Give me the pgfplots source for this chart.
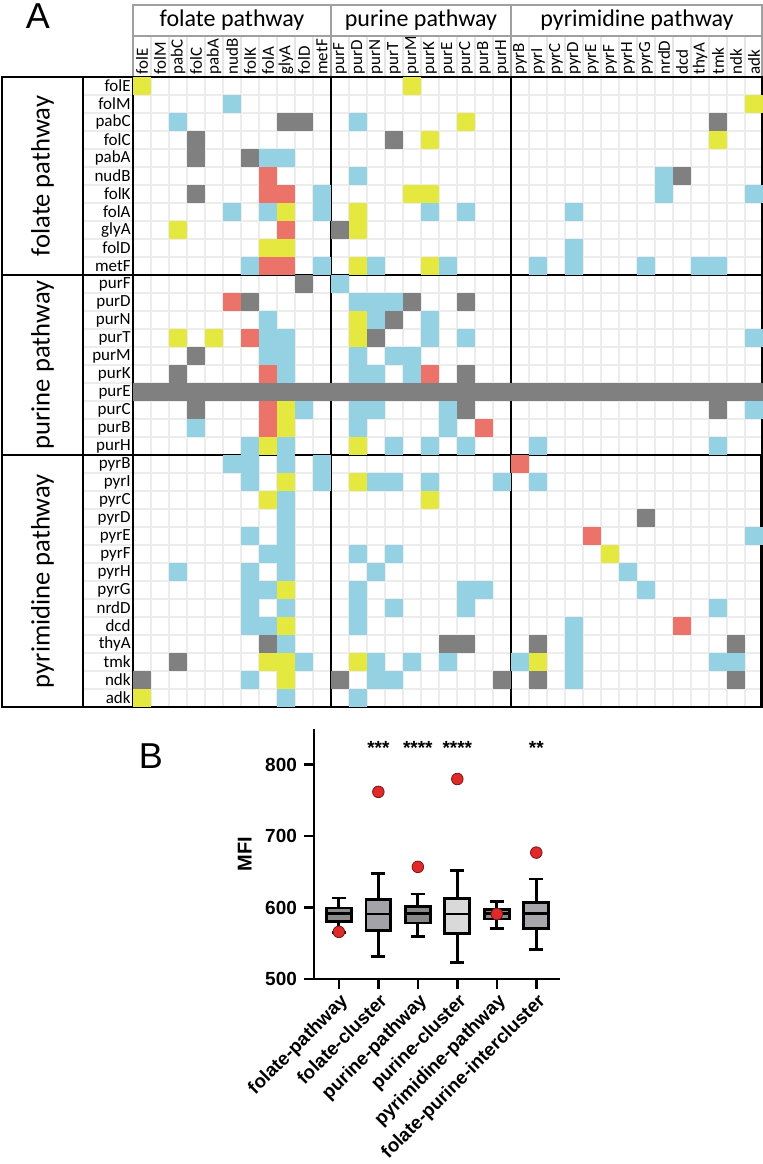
\documentclass[border=0pt]{standalone}
\usepackage{fontspec}
\setmainfont{Liberation Sans}
\newfontfamily\carlito{Carlito}
\usepackage{pgfplots}
\pgfplotsset{compat=1.18}
\usepgfplotslibrary{statistics}

\definecolor{cY}{HTML}{E5E83E}
\definecolor{cB}{HTML}{93D1E3}
\definecolor{cG}{HTML}{808080}
\definecolor{cR}{HTML}{EC736A}
\definecolor{hdr}{HTML}{A0A0A0}
\definecolor{bx1}{HTML}{8C8C8C}
\definecolor{bx2}{HTML}{A2A2A8}
\definecolor{bx3}{HTML}{888888}
\definecolor{bx4}{HTML}{D9D9D9}
\definecolor{bx5}{HTML}{8A8A8A}
\definecolor{bx6}{HTML}{A6A6AC}
\definecolor{dotred}{HTML}{E02A2A}

\begin{document}
\begin{tikzpicture}
\useasboundingbox (0,0) rectangle (381.5pt,-582pt);

\node[font=\fontsize{18}{20}\selectfont] at (19pt,-8pt) {A};
\node[font=\fontsize{18}{20}\selectfont] at (75.5pt,-378pt) {B};

% ---------------- interaction matrix ----------------
\begin{axis}[
  at={(66.5pt,-38.5pt)}, anchor=north west,
  width=315pt, height=315pt, scale only axis,
  xmin=-0.5, xmax=34.5, ymin=-0.5, ymax=34.5, y dir=reverse,
  axis line style={draw=none},
  major tick length=0pt, tick style={draw=none},
  xtick={0,...,34}, ytick={0,...,34},
  xticklabel pos=upper,
  xticklabels={folE,folM,pabC,folC,pabA,nudB,folK,folA,glyA,folD,metF,purF,purD,purN,purT,purM,purK,purE,purC,purB,purH,pyrB,pyrI,pyrC,pyrD,pyrE,pyrF,pyrH,pyrG,nrdD,dcd,thyA,tmk,ndk,adk},
  yticklabels={folE,folM,pabC,folC,pabA,nudB,folK,folA,glyA,folD,metF,purF,purD,purN,purT,purM,purK,purE,purC,purB,purH,pyrB,pyrI,pyrC,pyrD,pyrE,pyrF,pyrH,pyrG,nrdD,dcd,thyA,tmk,ndk,adk},
  x tick label style={rotate=90, anchor=west, inner sep=1pt, font=\carlito\fontsize{8.5}{9}\selectfont},
  y tick label style={anchor=east, inner sep=1pt, font=\carlito\fontsize{8.5}{9}\selectfont},
  minor xtick={-0.5,0.5,...,34.5}, minor ytick={-0.5,0.5,...,34.5},
  xminorgrids, yminorgrids,
  minor grid style={draw=gray!15, line width=0.6pt},
  clip=false,
]
% yellow cells
\addplot[only marks, mark=square*, mark size=4.2pt, color=cY, mark options={line width=0pt}] coordinates {
 (0,0) (15,0) (34,1) (18,2) (16,3) (32,3) (15,6) (16,6) (8,7) (12,7)
 (2,8) (12,8) (7,9) (8,9) (12,10) (16,10)
 (12,13) (2,14) (4,14) (12,14) (8,18) (8,19) (7,20) (12,20)
 (8,22) (12,22) (7,23) (16,23) (26,26) (8,28) (8,30)
 (7,32) (8,32) (12,32) (22,32) (8,33) (0,34)
};
% blue cells
\addplot[only marks, mark=square*, mark size=4.2pt, color=cB, mark options={line width=0pt}] coordinates {
 (5,1) (2,2) (12,2) (7,4) (8,4) (12,5) (29,5) (10,6) (29,6) (34,6)
 (5,7) (7,7) (10,7) (16,7) (18,7) (24,7) (24,9)
 (6,10) (10,10) (13,10) (17,10) (22,10) (24,10) (28,10) (31,10) (32,10)
 (11,11) (12,12) (13,12) (14,12) (7,13) (13,13) (16,13)
 (7,14) (8,14) (16,14) (18,14) (34,14)
 (7,15) (8,15) (12,15) (14,15) (15,15)
 (8,16) (12,16) (13,16) (15,16)
 (9,18) (12,18) (13,18) (17,18) (34,18)
 (3,19) (12,19) (17,19)
 (6,20) (8,20) (14,20) (16,20) (18,20) (22,20) (32,20)
 (5,21) (6,21) (8,21) (10,21)
 (6,22) (10,22) (13,22) (14,22) (16,22) (20,22) (22,22)
 (8,23) (8,24) (6,25) (8,25) (34,25)
 (7,26) (8,26) (12,26) (14,26)
 (2,27) (6,27) (8,27) (13,27) (27,27)
 (6,28) (7,28) (12,28) (18,28) (19,28) (28,28)
 (6,29) (8,29) (12,29) (14,29) (18,29) (32,29)
 (6,30) (7,30) (12,30) (24,30) (8,31) (24,31)
 (9,32) (13,32) (15,32) (17,32) (21,32) (24,32) (32,32) (33,32)
 (6,33) (13,33) (14,33) (24,33) (8,34) (12,34)
};
% grey cells
\addplot[only marks, mark=square*, mark size=4.2pt, color=cG, mark options={line width=0pt}] coordinates {
 (8,2) (9,2) (32,2) (3,3) (14,3) (3,4) (6,4) (30,5) (3,6) (11,8)
 (9,11) (6,12) (15,12) (18,12) (14,13) (13,14) (3,15) (2,16) (18,16)
 (0,17) (1,17) (2,17) (3,17) (4,17) (5,17) (6,17) (7,17) (8,17) (9,17)
 (10,17) (11,17) (12,17) (13,17) (14,17) (15,17) (16,17) (17,17) (18,17)
 (19,17) (20,17) (21,17) (22,17) (23,17) (24,17) (25,17) (26,17) (27,17)
 (28,17) (29,17) (30,17) (31,17) (32,17) (33,17) (34,17)
 (3,18) (18,18) (32,18) (28,24)
 (7,31) (17,31) (18,31) (22,31) (33,31) (2,32)
 (0,33) (11,33) (20,33) (22,33) (33,33)
};
% red cells
\addplot[only marks, mark=square*, mark size=4.2pt, color=cR, mark options={line width=0pt}] coordinates {
 (7,5) (7,6) (8,6) (8,8) (7,10) (8,10) (5,12) (6,14) (7,16) (16,16)
 (7,18) (7,19) (19,19) (21,21) (25,25) (30,30)
};

% column-label header cells
\pgfplotsinvokeforeach{0.5,1.5,...,33.5}{
  \draw[gray!20, line width=0.6pt] (axis cs:#1,-2.778) -- (axis cs:#1,-0.5);
}
\draw[hdr, line width=0.6pt] (axis cs:10.5,-2.778) -- (axis cs:10.5,-0.5);
\draw[hdr, line width=0.6pt] (axis cs:20.5,-2.778) -- (axis cs:20.5,-0.5);
\draw[hdr, line width=0.6pt] (axis cs:-0.5,-4.5) rectangle (axis cs:10.5,-2.778);
\draw[hdr, line width=0.6pt] (axis cs:10.5,-4.5) rectangle (axis cs:20.5,-2.778);
\draw[hdr, line width=0.6pt] (axis cs:20.5,-4.5) rectangle (axis cs:34.45,-2.778);
\draw[hdr, line width=0.6pt] (axis cs:-0.5,-2.778) -- (axis cs:-0.5,-0.5);
\draw[hdr, line width=0.6pt] (axis cs:34.45,-2.778) -- (axis cs:34.45,-0.5);
\node[font=\carlito\fontsize{12}{14}\selectfont] at (axis cs:5,-3.64) {folate pathway};
\node[font=\carlito\fontsize{12}{14}\selectfont] at (axis cs:15.5,-3.64) {purine pathway};
\node[font=\carlito\fontsize{12}{14}\selectfont] at (axis cs:27.5,-3.64) {pyrimidine pathway};

% row-label separators
\pgfplotsinvokeforeach{0.5,1.5,...,33.5}{
  \draw[gray!15, line width=0.6pt] (axis cs:-3.278,#1) -- (axis cs:-0.5,#1);
}
% row group labels
\node[rotate=90, font=\carlito\fontsize{13.3}{15}\selectfont] at (axis cs:-5.53,5) {folate pathway};
\node[rotate=90, font=\carlito\fontsize{13.3}{15}\selectfont] at (axis cs:-5.53,15.5) {purine pathway};
\node[rotate=90, font=\carlito\fontsize{13.3}{15}\selectfont] at (axis cs:-5.53,27.5) {pyrimidine pathway};

% frame and pathway dividers
\draw[black, line width=0.7pt] (axis cs:-7.778,-0.5) rectangle (axis cs:34.45,34.5);
\draw[black, line width=0.6pt] (axis cs:-3.278,-0.5) -- (axis cs:-3.278,34.5);
\draw[black, line width=0.8pt] (axis cs:-0.5,-0.5) -- (axis cs:-0.5,34.5);
\draw[black, line width=0.6pt] (axis cs:-7.778,10.5) -- (axis cs:34.45,10.5);
\draw[black, line width=0.6pt] (axis cs:-7.778,20.5) -- (axis cs:34.45,20.5);
\draw[black, line width=0.6pt] (axis cs:10.5,-0.5) -- (axis cs:10.5,34.5);
\draw[black, line width=0.6pt] (axis cs:20.5,-0.5) -- (axis cs:20.5,34.5);
% within-pathway blocks
\draw[black, line width=1.4pt] (axis cs:-0.5,-0.5) rectangle (axis cs:10.5,10.5);
\draw[black, line width=1.4pt] (axis cs:10.5,10.5) rectangle (axis cs:20.5,20.5);
\draw[black, line width=1.4pt] (axis cs:20.5,20.5) rectangle (axis cs:34.4,34.5);
\end{axis}

% ---------------- MFI box plot ----------------
\begin{axis}[
  at={(157pt,-489.5pt)}, anchor=south west,
  width=123pt, height=125pt, scale only axis,
  xmin=0.37, xmax=6.6, ymin=500, ymax=850,
  axis lines=left, axis line style={-, line width=1.4pt},
  xtick={1,...,6},
  xticklabels={folate-pathway,folate-cluster,purine-pathway,purine-cluster,pyrimidine-pathway,folate-purine-intercluster},
  ytick={500,600,700,800},
  tick style={line width=1.3pt, black},
  tick align=outside, major tick length=5pt,
  /pgf/number format/assume math mode=true,
  y tick label style={font=\bfseries\fontsize{9.5}{11}\selectfont},
  x tick label style={rotate=45, anchor=north east, inner sep=1pt, font=\bfseries\fontsize{9.4}{11}\selectfont},
  ylabel={MFI}, ylabel style={font=\bfseries\fontsize{10}{12}\selectfont},
  boxplot/draw direction=y,
  boxplot/box extend=0.63, boxplot/whisker extend=0.36,
  clip=false,
]
\addplot[boxplot prepared={draw position=1, lower whisker=565, lower quartile=581, median=592, upper quartile=599.5, upper whisker=613.5}, draw=black, line width=1.4pt, fill=bx1] coordinates {};
\addplot[boxplot prepared={draw position=2, lower whisker=531, lower quartile=567.5, median=591, upper quartile=611, upper whisker=648}, draw=black, line width=1.4pt, fill=bx2] coordinates {};
\addplot[boxplot prepared={draw position=3, lower whisker=559, lower quartile=578.5, median=592, upper quartile=601, upper whisker=619}, draw=black, line width=1.4pt, fill=bx3] coordinates {};
\addplot[boxplot prepared={draw position=4, lower whisker=523, lower quartile=563.5, median=591, upper quartile=613, upper whisker=652}, draw=black, line width=1.4pt, fill=bx4] coordinates {};
\addplot[boxplot prepared={draw position=5, lower whisker=571, lower quartile=584, median=592, upper quartile=597, upper whisker=608.5}, draw=black, line width=1.4pt, fill=bx5] coordinates {};
\addplot[boxplot prepared={draw position=6, lower whisker=541, lower quartile=571, median=592, upper quartile=607.5, upper whisker=640}, draw=black, line width=1.4pt, fill=bx6] coordinates {};
\addplot[only marks, mark=*, mark size=2.9pt, mark options={fill=dotred, draw=dotred!55!black, line width=0.4pt}] coordinates {
 (1,566) (2,762) (3,657) (4,780) (5,591) (6,677)
};
\node[anchor=base, font=\bfseries\fontsize{9.5}{10}\selectfont] at (axis cs:2,814) {***};
\node[anchor=base, font=\bfseries\fontsize{9.5}{10}\selectfont] at (axis cs:3,814) {****};
\node[anchor=base, font=\bfseries\fontsize{9.5}{10}\selectfont] at (axis cs:4,814) {****};
\node[anchor=base, font=\bfseries\fontsize{9.5}{10}\selectfont] at (axis cs:6,814) {**};
\end{axis}
\end{tikzpicture}
\end{document}
